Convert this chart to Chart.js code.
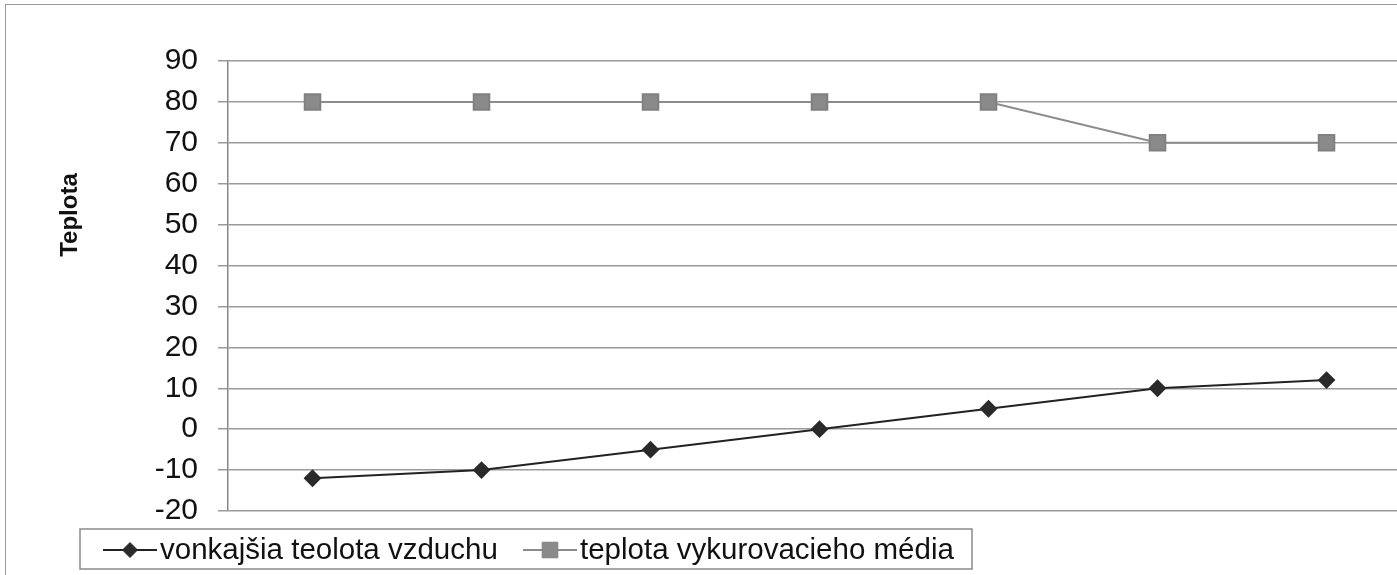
<!DOCTYPE html>
<html>
<head>
<meta charset="utf-8">
<script src="https://cdn.jsdelivr.net/npm/chart.js@4.4.1/dist/chart.umd.min.js"></script>
<style>
  html, body { margin: 0; padding: 0; background: #fff; overflow: hidden; }
  #wrap { position: absolute; left: 0; top: 0; width: 1397px; height: 575px; }
  #frame { position: absolute; left: 5px; top: 4px; width: 1400px; height: 580px; border: 1.5px solid #9a9a9a; }
</style>
</head>
<body>
<div id="frame"></div>
<div id="wrap"><canvas id="tempChart"></canvas></div>
<script>
const categories = ['1', '2', '3', '4', '5', '6', '7'];
const outdoorTemp = [-12, -10, -5, 0, 5, 10, 12];
const heatingTemp = [80, 80, 80, 80, 80, 70, 70];
const yTicks = [-20, -10, 0, 10, 20, 30, 40, 50, 60, 70, 80, 90];

const seriesNames = ['vonkajšia teolota vzduchu', 'teplota vykurovacieho média'];

// kategorie ako poradove cisla (graf je vpravo orezany)
const toPoints = arr => arr.map((v, i) => ({ x: categories.indexOf(categories[i]), y: v }));

// vlastna legenda a nazov osi Y
const extras = {
    id: 'extras',
    afterDraw(chart) {
        const ctx = chart.ctx;
        ctx.save();

        // nazov osi
        ctx.translate(70, 215);
        ctx.rotate(-Math.PI / 2);
        ctx.font = 'bold 24px "Liberation Sans", Arial, sans-serif';
        ctx.fillStyle = '#111';
        ctx.textAlign = 'center';
        ctx.textBaseline = 'middle';
        ctx.fillText('Teplota', 0, 0);
        ctx.restore();

        ctx.save();
        ctx.strokeStyle = '#8a8a8a';
        ctx.lineWidth = 1.5;
        ctx.strokeRect(80, 529, 892, 40);

        const y = 550;
        const items = [{x: 103, ds: chart.data.datasets[0]}, {x: 523, ds: chart.data.datasets[1]}];
        ctx.font = '29.5px "Liberation Sans", Arial, sans-serif';
        ctx.textBaseline = 'middle';
        ctx.textAlign = 'left';
        items.forEach(function(it){
            ctx.strokeStyle = it.ds.borderColor;
            ctx.lineWidth = 2;
            ctx.beginPath();
            ctx.moveTo(it.x, y);
            ctx.lineTo(it.x + 54, y);
            ctx.stroke();
            ctx.fillStyle = it.ds.pointBackgroundColor;
            ctx.strokeStyle = it.ds.pointBorderColor;
            ctx.lineWidth = 1;
            Chart.helpers.drawPoint(ctx, {pointStyle: it.ds.pointStyle, radius: it.ds.pointRadius, rotation: 0, borderWidth: 1}, it.x + 27, y);
            ctx.fillStyle = '#111';
            ctx.fillText(it.ds.label, it.x + 57, y + 1);
        });
        ctx.restore();
    }
};

const chart = new Chart(document.getElementById('tempChart'), {
    type: 'line',
    data: {
        datasets: [
            {
                label: seriesNames[0],
                data: toPoints(outdoorTemp),
                borderColor: '#222',
                borderWidth: 2,
                pointStyle: 'rectRot',
                pointRadius: 7.5,
                pointBackgroundColor: '#2a2a2a',
                pointBorderColor: '#2a2a2a',
                tension: 0
            },
            {
                label: seriesNames[1],
                data: toPoints(heatingTemp),
                borderColor: '#8c8c8c',
                borderWidth: 2,
                pointStyle: 'rect',
                pointRadius: 11,
                pointBackgroundColor: '#8a8a8a',
                pointBorderColor: '#808080',
                tension: 0
            }
        ]
    },
    options: {
        responsive: true,
        maintainAspectRatio: false,
        animation: false,
        layout: { autoPadding: false, padding: { top: 61, bottom: 64, left: 0, right: 0 } },
        plugins: { legend: { display: false }, tooltip: { enabled: false } },
        scales: {
            x: { type: 'linear', display: false, min: -0.5, max: 6.417 },
            y: {
                min: -20,
                max: 90,
                afterBuildTicks(scale) { scale.ticks = yTicks.map(v => ({value: v})); },
                afterFit(scale) { scale.width = 228; },
                ticks: {
                    padding: 20,
                    color: '#111',
                    font: { family: '"Liberation Sans", Arial, sans-serif', size: 30 }
                },
                grid: { color: '#9a9a9a', lineWidth: 1.5, tickLength: 10 },
                border: { color: '#888', width: 1.5 }
            }
        }
    },
    plugins: [extras]
});
</script>
</body>
</html>
